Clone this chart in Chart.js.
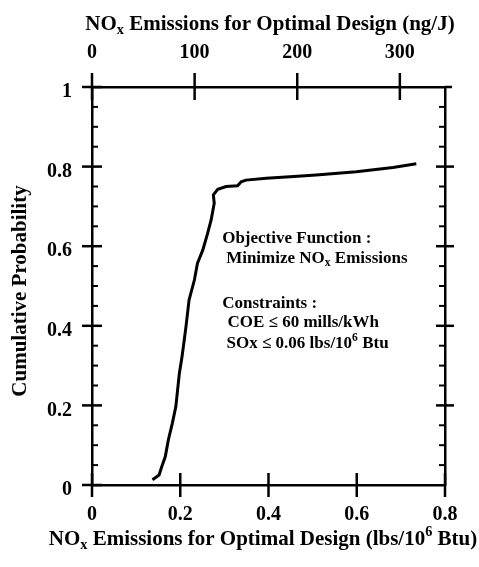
<!DOCTYPE html>
<html>
<head>
<meta charset="utf-8">
<script src="https://cdn.jsdelivr.net/npm/chart.js@4.4.0/dist/chart.umd.min.js"></script>
<style>
html,body{margin:0;padding:0;background:#fff;}
#wrap{width:479px;height:567px;position:relative;}
</style>
</head>
<body>
<div id="wrap"><canvas id="c"></canvas></div>
<script>
// ---- data ----
const noxLbs = [0.137, 0.152, 0.158, 0.166, 0.173, 0.182, 0.190, 0.194, 0.198, 0.204, 0.209, 0.213, 0.220, 0.232, 0.239, 0.251, 0.262, 0.270, 0.277, 0.275, 0.285, 0.304, 0.330, 0.338, 0.349, 0.395, 0.466, 0.508, 0.599, 0.682, 0.735];
const cumProb = [0.013, 0.025, 0.046, 0.071, 0.113, 0.155, 0.197, 0.239, 0.281, 0.322, 0.364, 0.398, 0.465, 0.515, 0.557, 0.590, 0.632, 0.666, 0.708, 0.729, 0.743, 0.750, 0.752, 0.762, 0.766, 0.771, 0.776, 0.779, 0.787, 0.798, 0.807];
const bottomTicks = [0, 0.2, 0.4, 0.6, 0.8];
const topTicks = [0, 100, 200, 300];
const probTicks = [0, 0.2, 0.4, 0.6, 0.8, 1];
const probMinorTicks = [0.05, 0.1, 0.15, 0.25, 0.3, 0.35, 0.45, 0.5, 0.55, 0.65, 0.7, 0.75, 0.85, 0.9, 0.95];
const ngPerLb = 430;
const topTitle = [['NO', 0], ['x', -1], [' Emissions for Optimal Design (ng/J)', 0]];
const bottomTitle = [['NO', 0], ['x', -1], [' Emissions for Optimal Design (lbs/10', 0], ['6', 1], [' Btu)', 0]];
const yTitle = 'Cumulative Probability';
const noteLines = [
  [['Objective Function :', 0]],
  [['Minimize NO', 0], ['x', -1], [' Emissions', 0]],
  [['Constraints :', 0]],
  [['COE \u2264 60 mills/kWh', 0]],
  [['SOx \u2264 0.06 lbs/10', 0], ['6', 1], [' Btu', 0]]
];

const FAM = '"Liberation Serif", "Times New Roman", serif';
function drawRich(ctx, parts, x, y, size, align) {
  const f = s => 'bold ' + s + 'px ' + FAM;
  let w = 0;
  parts.forEach(([t, m]) => { ctx.font = f(m ? size * 0.68 : size); w += ctx.measureText(t).width; });
  let cx = align === 'center' ? x - w / 2 : x;
  ctx.textAlign = 'left';
  ctx.textBaseline = 'alphabetic';
  parts.forEach(([t, m]) => {
    ctx.font = f(m ? size * 0.68 : size);
    const dy = m === -1 ? size * 0.2 : (m === 1 ? -size * 0.42 : 0);
    ctx.fillText(t, cx, y + dy);
    cx += ctx.measureText(t).width;
  });
}

const decor = {
  id: 'decor',
  afterDraw(chart) {
    const {ctx, chartArea: a, scales: {x, x2, y}} = chart;
    ctx.save();
    ctx.strokeStyle = '#000';
    ctx.fillStyle = '#000';
    ctx.lineWidth = 2.5;
    const line = (x1, y1, xx, yy) => { ctx.beginPath(); ctx.moveTo(x1, y1); ctx.lineTo(xx, yy); ctx.stroke(); };
    bottomTicks.forEach(v => { const p = x.getPixelForValue(v); line(p, a.bottom - 12, p, a.bottom + 12); });
    topTicks.forEach(v => { const p = x2.getPixelForValue(v); line(p, a.top - 14, p, a.top + 13); });
    probTicks.forEach(v => {
      const p = y.getPixelForValue(v);
      line(a.left - 10, p, a.left + 10, p);
      if (v > 0 && v < 1) line(a.right - 9, p, a.right + 9, p);
    });
    ctx.lineWidth = 2;
    probMinorTicks.forEach(v => {
      const p = y.getPixelForValue(v);
      line(a.left, p, a.left + 6, p);
      line(a.right - 6, p, a.right, p);
    });
    ctx.lineWidth = 2.5;
    line(a.right, a.top, a.right + 7, a.top);

    // axis titles
    drawRich(ctx, topTitle, 270, 30, 21, 'center');
    drawRich(ctx, bottomTitle, 263, 545, 21, 'center');
    ctx.save();
    ctx.translate(21, 291);
    ctx.rotate(-Math.PI / 2);
    ctx.font = 'bold 21px ' + FAM;
    ctx.textAlign = 'center';
    ctx.textBaseline = 'middle';
    ctx.fillText(yTitle, 0, 0);
    ctx.restore();

    // annotation
    const notePos = [[0.295, 0.608], [0.304, 0.558], [0.295, 0.445], [0.307, 0.397], [0.305, 0.344]];
    noteLines.forEach((parts, i) => {
      drawRich(ctx, parts, x.getPixelForValue(notePos[i][0]), y.getPixelForValue(notePos[i][1]), 17, 'left');
    });
    ctx.restore();
  }
};

const tickFont = {family: FAM, weight: 'bold', size: 20};
const borderOpt = {display: true, color: '#000', width: 2.5};

new Chart(document.getElementById('c'), {
  type: 'scatter',
  data: {
    datasets: [{
      data: noxLbs.map((v, i) => ({x: v, y: cumProb[i]})),
      showLine: true,
      borderColor: '#000',
      backgroundColor: '#000',
      borderWidth: 3,
      pointRadius: 0,
      tension: 0,
      fill: false
    }]
  },
  options: {
    responsive: true,
    maintainAspectRatio: false,
    animation: false,
    layout: {padding: 0},
    plugins: {legend: {display: false}, tooltip: {enabled: false}},
    scales: {
      x: {
        type: 'linear', position: 'bottom', min: 0, max: 0.8,
        grid: {display: false, drawTicks: false},
        border: borderOpt,
        afterBuildTicks: s => { s.ticks = bottomTicks.map(v => ({value: v})); },
        ticks: {color: '#000', font: tickFont, padding: 18, maxRotation: 0, callback: v => String(v)},
        afterFit: s => { s.height = 82; }
      },
      x2: {
        type: 'linear', position: 'top', min: 0, max: 0.8 * ngPerLb,
        grid: {display: false, drawTicks: false},
        border: borderOpt,
        afterBuildTicks: s => { s.ticks = topTicks.map(v => ({value: v})); },
        ticks: {color: '#000', font: tickFont, padding: 22, maxRotation: 0, callback: v => String(v)},
        afterFit: s => { s.height = 87; }
      },
      y: {
        type: 'linear', position: 'left', min: 0, max: 1,
        grid: {display: false, drawTicks: false},
        border: borderOpt,
        afterBuildTicks: s => { s.ticks = probTicks.map(v => ({value: v})); },
        ticks: {color: '#000', font: tickFont, padding: 20, labelOffset: 5, callback: v => String(v)},
        afterFit: s => { s.width = 92; }
      },
      y2: {
        type: 'linear', position: 'right', min: 0, max: 1,
        grid: {display: false, drawTicks: false},
        border: borderOpt,
        ticks: {display: false},
        afterFit: s => { s.width = 34; }
      }
    }
  },
  plugins: [decor]
});
</script>
</body>
</html>
